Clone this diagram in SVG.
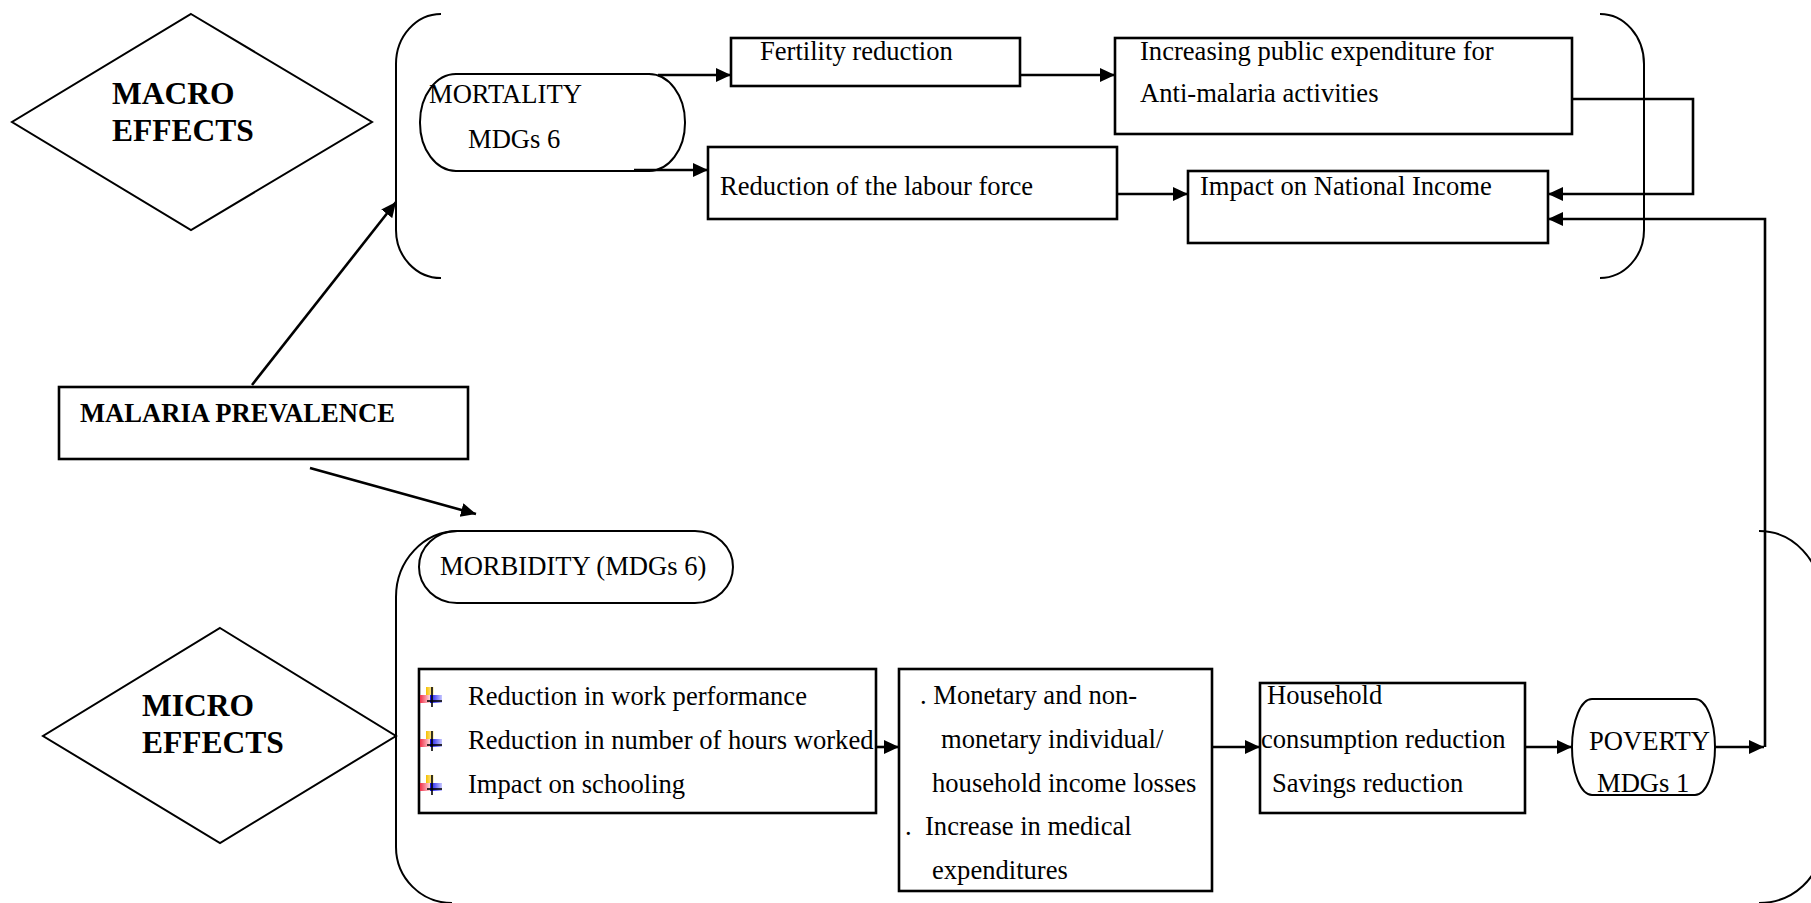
<svg xmlns="http://www.w3.org/2000/svg" width="1811" height="903" viewBox="0 0 1811 903">
<style>
text{font-family:"Liberation Serif","Times New Roman",serif;font-size:26.6px;fill:#000}
.b{font-weight:bold}
.big{font-weight:bold;font-size:31.5px}
.shape{fill:none;stroke:#000;stroke-width:2}
.box{fill:#fff;stroke:#000;stroke-width:2.6}
.con{fill:none;stroke:#000;stroke-width:2.6}
.arr{marker-end:url(#ah)}
</style>
<defs>
<marker id="ah" markerUnits="userSpaceOnUse" markerWidth="16" markerHeight="15" refX="15" refY="7" orient="auto">
<path d="M0,0 L15,7 L0,14 z" fill="#000"/>
</marker>
<linearGradient id="gy" x1="0" x2="1" y1="0" y2="0"><stop offset="0" stop-color="#f5c000"/><stop offset="1" stop-color="#fff6c8"/></linearGradient>
<linearGradient id="gr" x1="0" x2="1" y1="0" y2="0"><stop offset="0" stop-color="#f03048"/><stop offset="1" stop-color="#ffd8dc"/></linearGradient>
<linearGradient id="gb" x1="0" x2="1" y1="0" y2="0"><stop offset="0" stop-color="#1010f0"/><stop offset="1" stop-color="#c8c8ff"/></linearGradient>
<g id="bullet">
<rect x="426" y="687" width="8" height="8" fill="url(#gy)"/>
<rect x="420" y="695" width="10" height="8" fill="url(#gr)"/>
<rect x="430" y="695" width="12" height="8" fill="url(#gb)"/>
<line x1="432" y1="687" x2="432" y2="707" stroke="#000" stroke-width="1.6"/>
<line x1="427" y1="701" x2="442" y2="701" stroke="#000" stroke-width="1.6"/>
</g>
</defs>
<rect width="1811" height="903" fill="#fff"/>

<g id="macro-effects">
<polygon class="shape" points="191,14 372,122 191,230 12,122"/>
<text class="big" x="112" y="104">MACRO</text>
<text class="big" x="112" y="141">EFFECTS</text>
</g>

<g id="macro-bracket">
<path class="shape" d="M441,14 A45,50 0 0 0 396,64 L396,230 A45,48 0 0 0 441,278"/>
<path class="shape" d="M1600,14 A44,50 0 0 1 1644,64 L1644,230 A44,48 0 0 1 1600,278"/>
</g>

<g id="mortality">
<rect class="shape" x="420" y="74" width="265" height="97" rx="36" ry="48"/>
<text x="429" y="103">MORTALITY</text>
<text x="468" y="148">MDGs 6</text>
</g>

<g id="fertility">
<rect class="box" x="731" y="38" width="289" height="48"/>
<text x="760" y="60">Fertility reduction</text>
</g>

<g id="public-expenditure">
<rect class="box" x="1115" y="38" width="457" height="96"/>
<text x="1140" y="60">Increasing public expenditure for</text>
<text x="1140" y="102">Anti-malaria activities</text>
</g>

<g id="labour-force">
<rect class="box" x="708" y="147" width="409" height="72"/>
<text x="720" y="195">Reduction of the labour force</text>
</g>

<g id="national-income">
<rect class="box" x="1188" y="171" width="360" height="72"/>
<text x="1200" y="195">Impact on National Income</text>
</g>

<g id="malaria-prevalence">
<rect class="box" x="59" y="387" width="409" height="72"/>
<text class="b" x="80" y="422">MALARIA PREVALENCE</text>
</g>

<g id="micro-effects">
<polygon class="shape" points="220,628 396,736 220,843 43,736"/>
<text class="big" x="142" y="716">MICRO</text>
<text class="big" x="142" y="753">EFFECTS</text>
</g>

<g id="micro-bracket">
<path class="shape" d="M458,531 A62,66 0 0 0 396,597 L396,847 A56,56 0 0 0 452,903"/>
<path class="shape" d="M1759,531 A62,66 0 0 1 1821,597 L1821,845 A62,58 0 0 1 1759,903"/>
</g>

<g id="morbidity">
<rect class="shape" x="419" y="531" width="314" height="72" rx="38" ry="36"/>
<text x="440" y="575">MORBIDITY (MDGs 6)</text>
</g>

<g id="work-effects">
<rect class="box" x="419" y="669" width="457" height="144"/>
<use href="#bullet"/>
<use href="#bullet" y="44"/>
<use href="#bullet" y="88"/>
<text x="468" y="705">Reduction in work performance</text>
<text x="468" y="749">Reduction in number of hours worked</text>
<text x="468" y="793">Impact on schooling</text>
</g>

<g id="income-losses">
<rect class="box" x="899" y="669" width="313" height="222"/>
<text x="920" y="704">. Monetary and non-</text>
<text x="941" y="748">monetary individual/</text>
<text x="932" y="792">household income losses</text>
<text x="905" y="835">.<tspan x="925">Increase in medical</tspan></text>
<text x="932" y="879">expenditures</text>
</g>

<g id="household">
<rect class="box" x="1260" y="683" width="265" height="130"/>
<text x="1267" y="704">Household</text>
<text x="1261" y="748">consumption reduction</text>
<text x="1272" y="792">Savings reduction</text>
</g>

<g id="poverty">
<rect class="shape" x="1572" y="699" width="143" height="96" rx="20" ry="48"/>
<text x="1589" y="750">POVERTY</text>
<text x="1597" y="792">MDGs 1</text>
</g>

<g id="connectors">
<path class="con arr" d="M252,385 L396,202"/>
<path class="con arr" d="M310,468 L476,514"/>
<path class="con arr" d="M658,75 L731,75"/>
<path class="con arr" d="M1020,75 L1115,75"/>
<path class="con arr" d="M634,170 L708,170"/>
<path class="con arr" d="M1117,194 L1188,194"/>
<path class="con arr" d="M1572,99 L1693,99 L1693,194 L1548,194"/>
<path class="con arr" d="M1765,747 L1765,219 L1548,219"/>
<path class="con arr" d="M1715,747 L1764,747"/>
<path class="con arr" d="M876,747 L899,747"/>
<path class="con arr" d="M1212,747 L1260,747"/>
<path class="con arr" d="M1525,747 L1572,747"/>
</g>
</svg>
